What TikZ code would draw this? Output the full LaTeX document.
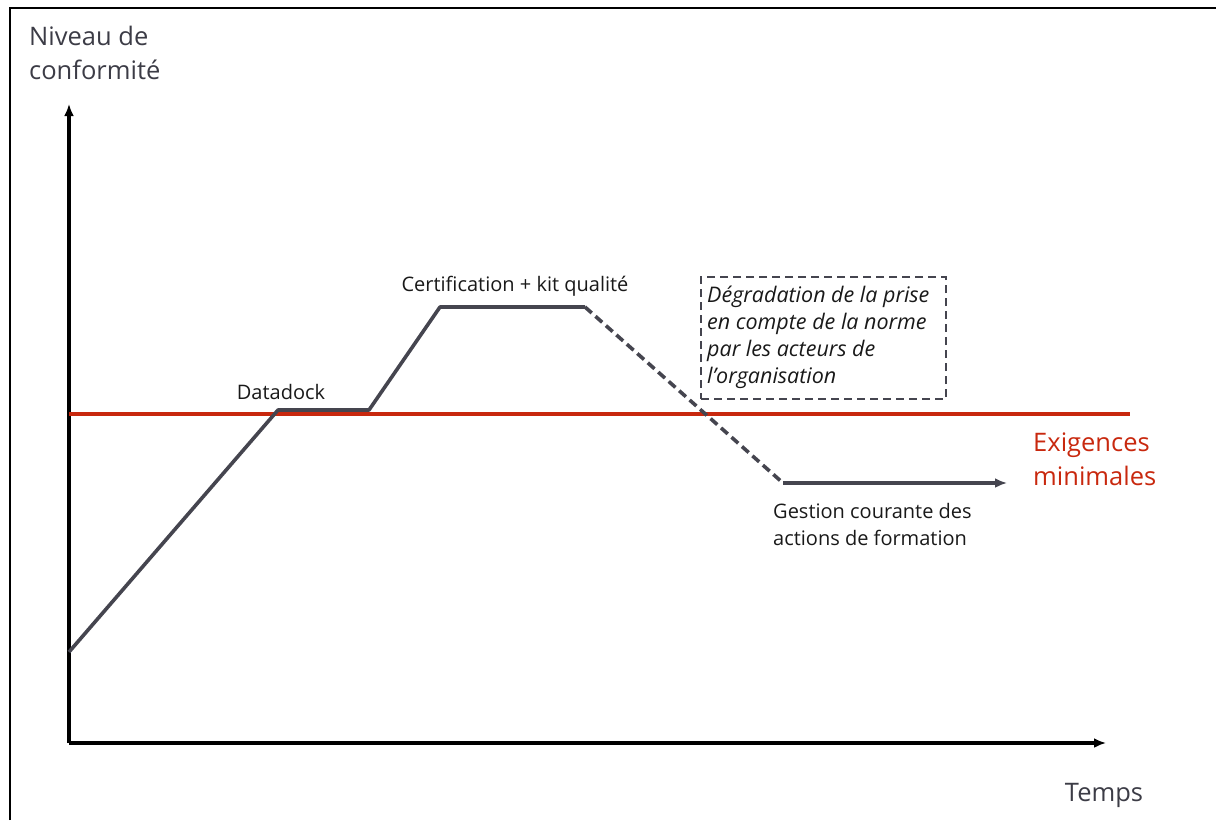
\documentclass[tikz,border=0pt]{standalone}
\usepackage{fontspec}
\setmainfont{Open Sans}
\usetikzlibrary{arrows.meta,positioning}
\definecolor{curvegray}{HTML}{45454F}
\definecolor{minred}{HTML}{C8280E}
\definecolor{textgray}{HTML}{3C3C46}

\begin{document}
\begin{tikzpicture}[x=1pt,y=-1pt,
    axis/.style={line width=3.2pt,-{Latex[length=12pt,width=10pt]}},
    level/.style={line width=3.6pt,curvegray,line join=round},
    label/.style={font=\fontsize{20}{27}\selectfont,inner sep=0pt,text=black!90},
    biglabel/.style={font=\fontsize{25.5}{34}\selectfont,inner sep=0pt,align=left}]

\useasboundingbox (0,0) rectangle (1216,820);

% frame
\draw[line width=1.8pt] (10,820) -- (10,8) -- (1216,8);

% axes
\coordinate (origin) at (69,743);
\coordinate (ytop) at (69,104);
\coordinate (xend) at (1106,743);
\draw[axis] (origin) -- (ytop);
\draw[axis] (origin) -- (xend);

% (multi-line nodes: base = last line)
\node[biglabel,text=textgray,anchor=base west] (yname) at (29,79) {Niveau de\\conformité};
\node[biglabel,text=textgray,anchor=base] (xname) at (1104,801) {Temps};

% minimum requirements
\coordinate (minl) at (69,414);
\coordinate (minr) at (1130,414);
\draw[line width=3.2pt,minred] (minl) -- (minr);
\node[biglabel,text=minred,anchor=base west] (minname) at (1033,485) {Exigences\\minimales};

% level curve
\coordinate (start) at (69,652);
\coordinate (dd1) at (278,410);
\coordinate (dd2) at (369,410);
\coordinate (ck1) at (440,307);
\coordinate (ck2) at (585,307);
\coordinate (gc1) at (783,483);
\coordinate (gc2) at (1007,483);
\draw[level] (start) -- (dd1) -- (dd2) -- (ck1) -- (ck2);
\draw[level,dash pattern=on 9pt off 5pt] (ck2) -- (gc1);
\draw[level,-{Latex[length=12pt,width=10pt]}] (gc1) -- (gc2);

% labels
\node[label,anchor=base] (datadock) at (281,399) {Datadock};
\node[label,anchor=base] (certif) at (515,291) {Certification + kit qualité};
\node[label,anchor=base west,align=left] (gestion) at (773,545) {Gestion courante des\\actions de formation};

% degradation box
\node[draw=curvegray,dash pattern=on 8pt off 5pt,line width=2pt,anchor=north west,
      minimum width=245pt,minimum height=122pt,inner sep=0pt] (degbox) at (700,276) {};
\node[label,font=\fontsize{21.5}{27}\selectfont\itshape,anchor=base west,align=left] (degtext) at (707,383)
    {Dégradation de la prise\\en compte de la norme\\par les acteurs de\\l’organisation};

\end{tikzpicture}
\end{document}
